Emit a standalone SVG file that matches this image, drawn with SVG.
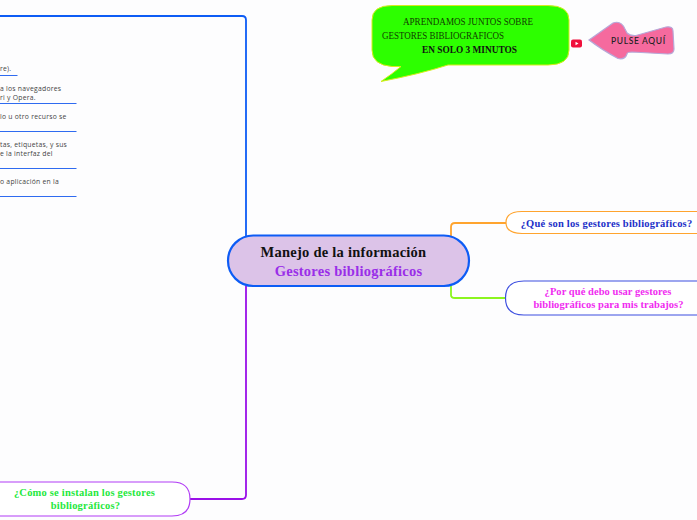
<svg xmlns="http://www.w3.org/2000/svg" width="697" height="520" viewBox="0 0 697 520">
<style>
.s{font-family:"Liberation Serif","Times New Roman",serif;font-weight:bold}
.c{fill:none;stroke-width:1.800;stroke-linejoin:round}
.l{font-family:"Open Sans","Noto Sans",sans-serif;font-size:6.800px;fill:#444;letter-spacing:.25px}
.b{font-family:"Liberation Serif","Times New Roman",serif;font-size:10.200px;fill:#123c00}
.q{font-size:10.500px;text-anchor:middle;letter-spacing:.2px}
.p{letter-spacing:.05px}
</style>
<rect width="697" height="520" fill="#fdfdfe"/>
<g id="connectors">
<path class="c" d="M246 236V20Q246 16 242 16H0" stroke="#0d5cf5"/>
<path class="c" d="M246 286V495Q246 499 242 499H190" stroke="#9a10e8"/>
<path class="c" d="M451 236V227Q451 223 455 223H506" stroke="#ffa42e"/>
<path class="c" d="M451 286V295Q451 298 455 298H506" stroke="#8cf51f"/>
<g stroke="#2f6bf0" stroke-width="1">
<path d="M0 75.500H17.500"/><path d="M0 103.500H76.500"/><path d="M0 131.500H76.500"/><path d="M0 168.500H76.500"/><path d="M0 196.500H76.500"/>
</g>
</g>
<g id="left-texts">
<text class="l" x="0" y="71">re).</text>
<text class="l" x="0" y="90.500">a los navegadores</text>
<text class="l" x="0" y="99.500">ri y Opera.</text>
<text class="l" x="0" y="118.500">lo u otro recurso se</text>
<text class="l" x="0" y="146.500">tas, etiquetas, y sus</text>
<text class="l" x="0" y="155.500">e la interfaz del</text>
<text class="l" x="0" y="183.500">o aplicación en la</text>
</g>
<g id="main">
<rect x="228" y="235.500" width="241" height="50.500" rx="25.200" fill="#dcc3e8" stroke="#0d5cf5" stroke-width="2.200"/>
<text class="s" x="343.500" y="257" font-size="14.500" text-anchor="middle" fill="#111" letter-spacing=".25">Manejo de la información</text>
<text class="s" x="348.500" y="276" font-size="14.500" text-anchor="middle" fill="#9a2ee8" letter-spacing=".25">Gestores bibliográficos</text>
</g>
<g id="que-son">
<path d="M697 211.500H522Q506 211.500 506 222.500Q506 233.500 522 233.500H697" fill="#fff" stroke="#ffa42e" stroke-width="1.200"/>
<text class="s q" x="606.500" y="226.500" fill="#1c2fc8">¿Qué son los gestores bibliográficos?</text>
</g>
<g id="por-que">
<path d="M697 281H524Q505.500 281 505.500 298Q505.500 315 524 315H697" fill="#fff" stroke="#3d4fe0" stroke-width="1.200"/>
<text class="s q p" x="608" y="295" fill="#f02bf0">¿Por qué debo usar gestores</text>
<text class="s q p" x="608.500" y="308" fill="#f02bf0">bibliográficos para mis trabajos?</text>
</g>
<g id="como">
<path d="M0 482H172Q190 482 190 499Q190 516 172 516H0" fill="#fff" stroke="#b13cf5" stroke-width="1.200"/>
<text class="s q" x="84.500" y="496" fill="#24e83c">¿Cómo se instalan los gestores</text>
<text class="s q" x="85.500" y="509" fill="#24e83c">bibliográficos?</text>
</g>
<g id="bubble">
<path d="M392 5.500H548Q569 5.500 569 20V50Q569 65 548 65H448Q420 74 381 81.500Q392 74 401 66.500H392Q372 65 372 50V20Q372 5.500 392 5.500Z" fill="#2dff00" stroke="#d8ec1c"/>
<text class="b" x="403" y="25" textLength="130" lengthAdjust="spacingAndGlyphs">APRENDAMOS JUNTOS SOBRE</text>
<text class="b" x="382" y="39" textLength="122" lengthAdjust="spacingAndGlyphs">GESTORES BIBLIOGRAFICOS</text>
<text class="b" x="422" y="53" font-weight="bold" style="fill:#111" textLength="95" lengthAdjust="spacingAndGlyphs">EN SOLO 3 MINUTOS</text>
</g>
<g id="youtube">
<rect x="571" y="39.500" width="11" height="8" rx="2" fill="#f0103c"/>
<path d="M575.500 41.700L578.500 43.500L575.500 45.300Z" fill="#fff"/>
</g>
<g id="pulse">
<path d="M589 40L613 23Q621 20 625 29L627 33Q630 36 636 35.500L666 27Q673 26 673 31L674 49Q674 54 668 54L632 52Q627 52 627 54Q625 60 618 58.500Q602 50 589 40Z" fill="#f56a9e" stroke="#b7a8d8" stroke-width="1.200"/>
<text x="611" y="44" font-family="Lato,'Noto Sans',sans-serif" font-size="8.500" font-weight="500" letter-spacing=".65" fill="#222">PULSE AQUÍ</text>
</g>
</svg>
